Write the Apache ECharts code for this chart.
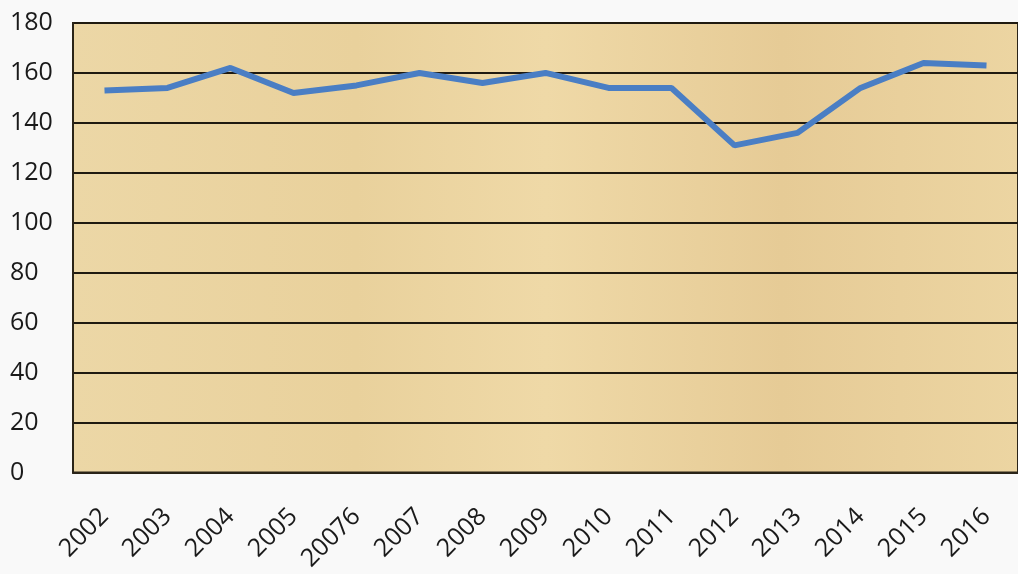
<!DOCTYPE html>
<html>
<head>
<meta charset="utf-8">
<script src="https://cdn.jsdelivr.net/npm/echarts@6/dist/echarts.min.js"></script>
<style>
html,body{margin:0;padding:0;background:#f9f9f9;}
#c{width:1018px;height:574px;}
</style>
</head>
<body>
<div id="c"></div>
<script>
const categories = ['2002','2003','2004','2005','20076','2007','2008','2009','2010','2011','2012','2013','2014','2015','2016'];
const values = [153,154,162,152,155,160,156,160,154,154,131,136,154,164,163];
const yTicks = [0,20,40,60,80,100,120,140,160,180];

const chart = echarts.init(document.getElementById('c'));
chart.setOption({
  backgroundColor: '#f9f9f9',
  animation: false,
  grid: {
    left: 73, top: 23, width: 950, height: 450,
    show: true,
    backgroundColor: new echarts.graphic.LinearGradient(0,0,1,0,[
      {offset:0, color:'#ecd7a6'},
      {offset:0.3, color:'#e9d19c'},
      {offset:0.5, color:'#efd9a7'},
      {offset:0.75, color:'#e6cb96'},
      {offset:1, color:'#ecd5a2'}
    ]),
    borderColor: '#2a2418',
    borderWidth: 2
  },
  xAxis: {
    type: 'category',
    data: categories,
    boundaryGap: true,
    axisLine: {show: true, lineStyle: {color: '#2a2418', width: 2}},
    axisTick: {show: false},
    axisLabel: {
      rotate: 45,
      interval: 0,
      color: '#1a1a1a',
      fontFamily: 'Open Sans, Liberation Sans, sans-serif',
      fontSize: 25,
      margin: 40
    }
  },
  yAxis: {
    type: 'value',
    min: yTicks[0],
    max: yTicks[yTicks.length-1],
    interval: 20,
    axisLine: {show: true, lineStyle: {color: '#2a2418', width: 2}},
    axisTick: {show: false},
    splitLine: {show: true, lineStyle: {color: '#1f1a10', width: 2}},
    axisLabel: {
      color: '#1a1a1a',
      fontFamily: 'Open Sans, Liberation Sans, sans-serif',
      fontSize: 25,
      align: 'left',
      margin: 63
    }
  },
  series: [{
    type: 'line',
    data: values,
    symbol: 'none',
    lineStyle: {color: '#4a7ec4', width: 6}
  }]
});
</script>
</body>
</html>
